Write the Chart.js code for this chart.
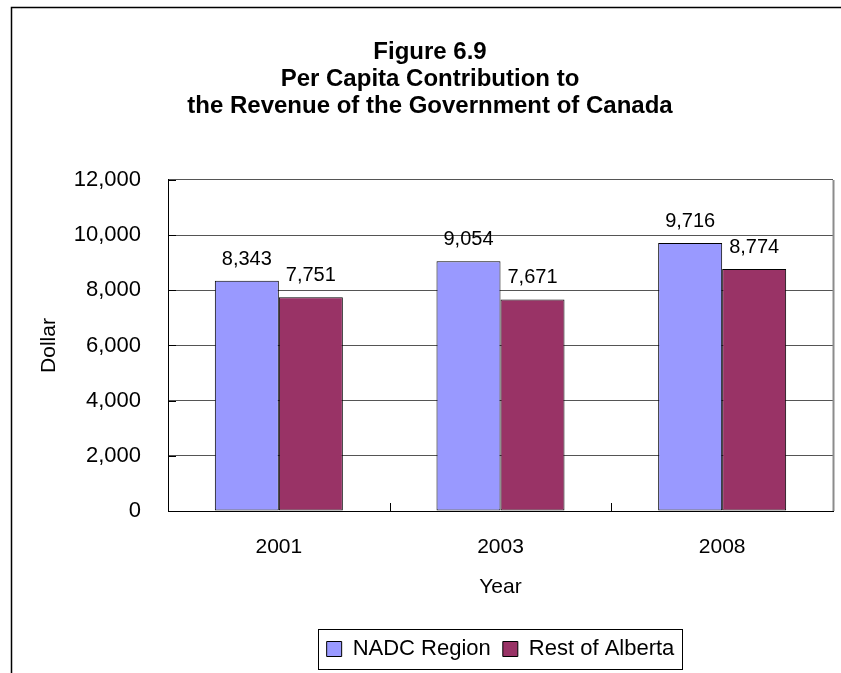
<!DOCTYPE html>
<html>
<head>
<meta charset="utf-8">
<title>Figure 6.9</title>
<script src="https://cdn.jsdelivr.net/npm/chart.js@4.4.1/dist/chart.umd.min.js"></script>
<style>
    html, body { margin: 0; padding: 0; background: #fff; }
    #wrap { position: relative; width: 841px; height: 673px; }
</style>
</head>
<body>
<div id="wrap"><canvas id="revenueChart" width="841" height="673"></canvas></div>
<script>
// --- data ---
const years = ['2001', '2003', '2008'];
const nadcRegion = [8343, 9054, 9716];
const restOfAlberta = [7751, 7671, 8774];
const yTicks = [0, 2000, 4000, 6000, 8000, 10000, 12000];
const titleLines = ['Figure 6.9', 'Per Capita Contribution to', 'the Revenue of the Government of Canada'];

const FONT = '"Liberation Sans", Arial, Helvetica, sans-serif';
Chart.defaults.font.family = FONT;
Chart.defaults.color = '#000';

const fmt = v => v.toLocaleString('en-US');

// frame, plot border, inside tick marks, value labels, legend box
const decorPlugin = {
    id: 'decor',
    beforeDraw(chart) {
        const { ctx, width, height } = chart;
        ctx.save();
        ctx.fillStyle = '#fff';
        ctx.fillRect(0, 0, width, height);
        ctx.restore();
    },
    afterDatasetsDraw(chart) {
        const ctx = chart.ctx;
        ctx.save();
        ctx.font = '20px ' + FONT;
        ctx.fillStyle = '#000';
        ctx.textAlign = 'center';
        ctx.textBaseline = 'alphabetic';
        chart.data.datasets.forEach((ds, i) => {
            chart.getDatasetMeta(i).data.forEach((bar, j) => {
                ctx.fillText(fmt(ds.data[j]), bar.x, bar.y - 16);
            });
        });
        ctx.restore();
    },
    afterDraw(chart) {
        const { ctx, chartArea: a, width, height } = chart;
        const x = chart.scales.x, y = chart.scales.y;
        ctx.save();

        // outer frame (top and left edges visible)
        ctx.strokeStyle = '#000';
        ctx.lineWidth = 1.5;
        ctx.beginPath();
        ctx.moveTo(11.5, height);
        ctx.lineTo(11.5, 7.5);
        ctx.lineTo(width, 7.5);
        ctx.stroke();

        // plot area right border
        ctx.strokeStyle = '#8c8c8c';
        ctx.lineWidth = 2;
        ctx.beginPath();
        ctx.moveTo(a.right + 0.5, a.top);
        ctx.lineTo(a.right + 0.5, a.bottom);
        ctx.stroke();

        // inside tick marks
        ctx.strokeStyle = '#000';
        ctx.lineWidth = 1;
        ctx.beginPath();
        y.ticks.forEach(t => {
            const py = Math.round(y.getPixelForValue(t.value)) + 0.5;
            ctx.moveTo(a.left, py);
            ctx.lineTo(a.left + 8, py);
        });
        const n = years.length;
        for (let i = 1; i < n; i++) {
            const px = Math.round(x.left + i * x.width / n) + 0.5;
            ctx.moveTo(px, a.bottom);
            ctx.lineTo(px, a.bottom - 8);
        }
        ctx.stroke();

        // legend box
        const hb = chart.legend.legendHitBoxes;
        if (hb && hb.length) {
            const first = hb[0], last = hb[hb.length - 1];
            const cy = first.top + first.height / 2;
            const lx = Math.round(first.left - 9) + 0.5;
            const rx = Math.round(last.left + last.width + 8) + 0.5;
            ctx.strokeStyle = '#000';
            ctx.strokeRect(lx, Math.round(cy - 20) + 0.5, rx - lx, 40);
        }
        ctx.restore();
    }
};

new Chart(document.getElementById('revenueChart'), {
    type: 'bar',
    data: {
        labels: years,
        datasets: [{
            label: 'NADC Region',
            data: nadcRegion,
            backgroundColor: '#9999ff',
            borderColor: '#000',
            borderWidth: 1,
            borderSkipped: false
        }, {
            label: 'Rest of Alberta',
            data: restOfAlberta,
            backgroundColor: '#993366',
            borderColor: '#000',
            borderWidth: 1,
            borderSkipped: false
        }]
    },
    options: {
        responsive: false,
        animation: false,
        layout: { padding: { left: 27, right: 8, top: 0, bottom: 3 } },
        datasets: { bar: { categoryPercentage: 0.5775, barPercentage: 1 } },
        plugins: {
            title: {
                display: true,
                text: titleLines,
                font: { size: 24, weight: 'bold', lineHeight: 1.13 },
                color: '#000',
                padding: { top: 39, bottom: 59.6 }
            },
            legend: {
                position: 'bottom',
                fullSize: false,
                labels: {
                    font: { size: 22 },
                    boxWidth: 15,
                    boxHeight: 15,
                    padding: 12,
                    color: '#000'
                }
            },
            tooltip: { enabled: false }
        },
        scales: {
            x: {
                grid: { display: false, drawTicks: false },
                border: { display: true, color: '#000', width: 1 },
                ticks: { font: { size: 21 }, padding: 24, color: '#000' },
                title: {
                    display: true,
                    text: 'Year',
                    font: { size: 21 },
                    color: '#000',
                    padding: { top: 4, bottom: 26 }
                },
                afterFit: s => { s.height = 115; }
            },
            y: {
                min: 0,
                max: yTicks[yTicks.length - 1],
                afterBuildTicks: s => { s.ticks = yTicks.map(v => ({ value: v })); },
                grid: {
                    drawTicks: false,
                    color: c => (c.tick && c.tick.value === 0) ? 'rgba(0,0,0,0)' : '#555',
                    lineWidth: 1
                },
                border: { display: true, color: '#000', width: 1 },
                ticks: {
                    font: { size: 22 },
                    padding: 27,
                    color: '#000',
                    callback: v => fmt(v)
                },
                title: {
                    display: true,
                    text: 'Dollar',
                    font: { size: 21 },
                    color: '#000',
                    padding: { top: 10, bottom: 4 }
                },
                afterFit: s => { s.width = 141; }
            }
        }
    },
    plugins: [decorPlugin]
});
</script>
</body>
</html>
